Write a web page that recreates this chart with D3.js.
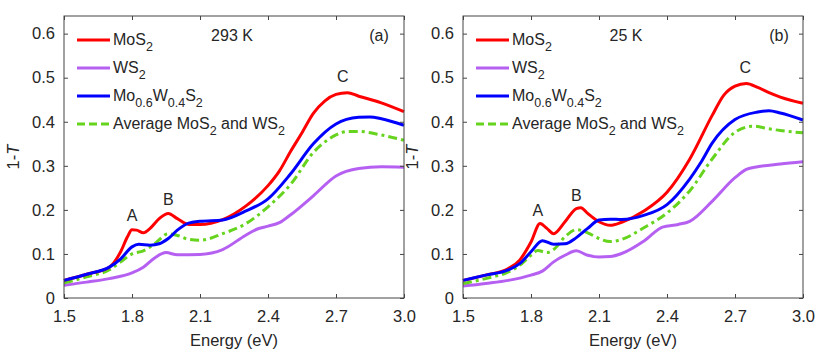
<!DOCTYPE html>
<html>
<head>
<meta charset="utf-8">
<script src="https://cdn.jsdelivr.net/npm/d3@7"></script>
<style>
  body { margin: 0; background: #fff; }
  text { font-family: "Liberation Sans", Arial, sans-serif; fill: #262626; }
</style>
</head>
<body>
<svg id="chart" width="816" height="351"></svg>
<script>
// Panel (a) 293 K
const energyA = [1.5, 1.6, 1.7, 1.75, 1.78, 1.8, 1.82, 1.85, 1.88, 1.92, 1.96, 2.0, 2.05, 2.1, 2.2, 2.3, 2.4, 2.45, 2.5, 2.55, 2.6, 2.65, 2.7, 2.75, 2.8, 2.9, 3.0];
const mos2A = [0.040, 0.054, 0.070, 0.105, 0.139, 0.155, 0.154, 0.148, 0.158, 0.180, 0.192, 0.180, 0.167, 0.167, 0.178, 0.208, 0.255, 0.288, 0.333, 0.375, 0.419, 0.447, 0.462, 0.466, 0.458, 0.443, 0.423];

const energyA2 = [1.5, 1.6, 1.7, 1.75, 1.8, 1.83, 1.88, 1.92, 1.96, 2.0, 2.05, 2.1, 2.2, 2.3, 2.4, 2.5, 2.6, 2.7, 2.8, 2.85, 2.9, 3.0];
const alloyA = [0.040, 0.054, 0.070, 0.089, 0.116, 0.122, 0.120, 0.123, 0.135, 0.154, 0.170, 0.174, 0.177, 0.197, 0.225, 0.282, 0.350, 0.395, 0.410, 0.411, 0.407, 0.392];

const energyA3 = [1.5, 1.6, 1.7, 1.75, 1.8, 1.85, 1.9, 1.96, 2.0, 2.05, 2.1, 2.2, 2.3, 2.4, 2.5, 2.6, 2.7, 2.75, 2.8, 2.9, 3.0];
const avgA = [0.034, 0.048, 0.064, 0.082, 0.100, 0.107, 0.123, 0.146, 0.142, 0.133, 0.131, 0.146, 0.168, 0.207, 0.258, 0.330, 0.370, 0.378, 0.378, 0.370, 0.358];

const energyA4 = [1.5, 1.6, 1.7, 1.8, 1.85, 1.9, 1.95, 2.0, 2.1, 2.2, 2.3, 2.35, 2.4, 2.45, 2.5, 2.6, 2.7, 2.8, 2.9, 3.0];
const ws2A = [0.029, 0.036, 0.044, 0.057, 0.070, 0.091, 0.103, 0.098, 0.099, 0.110, 0.142, 0.156, 0.163, 0.171, 0.189, 0.232, 0.277, 0.294, 0.298, 0.297];

// Panel (b) 25 K
const energyB = [1.5, 1.6, 1.7, 1.75, 1.8, 1.84, 1.87, 1.9, 1.95, 2.0, 2.02, 2.05, 2.1, 2.15, 2.2, 2.3, 2.4, 2.5, 2.6, 2.65, 2.7, 2.75, 2.8, 2.85, 2.9, 3.0];
const mos2B = [0.040, 0.052, 0.067, 0.086, 0.127, 0.169, 0.158, 0.146, 0.173, 0.203, 0.205, 0.192, 0.173, 0.165, 0.172, 0.198, 0.240, 0.315, 0.415, 0.460, 0.481, 0.487, 0.478, 0.466, 0.456, 0.442];

const energyB2 = [1.5, 1.6, 1.7, 1.75, 1.8, 1.85, 1.9, 1.95, 2.0, 2.05, 2.1, 2.15, 2.2, 2.3, 2.4, 2.5, 2.55, 2.6, 2.7, 2.8, 2.85, 2.9, 3.0];
const alloyB = [0.040, 0.052, 0.064, 0.078, 0.105, 0.130, 0.122, 0.123, 0.137, 0.158, 0.177, 0.179, 0.178, 0.188, 0.212, 0.270, 0.308, 0.352, 0.405, 0.422, 0.425, 0.420, 0.404];

const energyB3 = [1.5, 1.6, 1.7, 1.75, 1.8, 1.83, 1.87, 1.9, 1.95, 2.0, 2.05, 2.1, 2.15, 2.2, 2.3, 2.4, 2.5, 2.6, 2.7, 2.78, 2.85, 2.9, 3.0];
const avgB = [0.033, 0.044, 0.059, 0.074, 0.097, 0.108, 0.103, 0.110, 0.139, 0.155, 0.148, 0.135, 0.128, 0.133, 0.160, 0.193, 0.243, 0.316, 0.376, 0.390, 0.384, 0.380, 0.375];

const energyB4 = [1.5, 1.6, 1.7, 1.8, 1.85, 1.9, 1.95, 2.0, 2.05, 2.1, 2.15, 2.2, 2.3, 2.38, 2.45, 2.5, 2.6, 2.7, 2.75, 2.8, 2.9, 3.0];
const ws2B = [0.027, 0.033, 0.040, 0.052, 0.061, 0.082, 0.097, 0.107, 0.097, 0.093, 0.094, 0.101, 0.130, 0.161, 0.167, 0.174, 0.220, 0.273, 0.292, 0.298, 0.304, 0.309];

const xTicks = [1.5, 1.8, 2.1, 2.4, 2.7, 3.0];
const yTicks = [0, 0.1, 0.2, 0.3, 0.4, 0.5, 0.6];

// legend labels: [text, isSubscript]
const legendItems = [
  { parts: [["MoS", 0], ["2", 1]], color: "#ff0000", dash: null },
  { parts: [["WS", 0], ["2", 1]], color: "#b660f2", dash: null },
  { parts: [["Mo", 0], ["0.6", 1], ["W", 0], ["0.4", 1], ["S", 0], ["2", 1]], color: "#0000ff", dash: null },
  { parts: [["Average MoS", 0], ["2", 1], [" and WS", 0], ["2", 1]], color: "#66d41e", dash: "8,4" }
];

const panels = [
  {
    left: 64, temp: "293 K", tag: "(a)", tempX: 232, tagX: 379,
    series: [
      { e: energyA4, v: ws2A, color: "#b660f2", dash: null },
      { e: energyA3, v: avgA, color: "#66d41e", dash: "9,4,3,4" },
      { e: energyA, v: mos2A, color: "#ff0000", dash: null },
      { e: energyA2, v: alloyA, color: "#0000ff", dash: null }
    ],
    peaks: [["A", 1.8, 0.175], ["B", 1.96, 0.212], ["C", 2.73, 0.49]]
  },
  {
    left: 463, temp: "25 K", tag: "(b)", tempX: 626, tagX: 779,
    series: [
      { e: energyB4, v: ws2B, color: "#b660f2", dash: null },
      { e: energyB3, v: avgB, color: "#66d41e", dash: "9,4,3,4" },
      { e: energyB, v: mos2B, color: "#ff0000", dash: null },
      { e: energyB2, v: alloyB, color: "#0000ff", dash: null }
    ],
    peaks: [["A", 1.83, 0.185], ["B", 2.0, 0.22], ["C", 2.745, 0.51]]
  }
];

const svg = d3.select("#chart");
const plotTop = 16, plotBottom = 298, plotW = 340;

panels.forEach((p) => {
  const x = d3.scaleLinear().domain([1.5, 3.0]).range([p.left, p.left + plotW]);
  const y = d3.scaleLinear().domain([0, 0.64]).range([plotBottom, plotTop]);
  const g = svg.append("g");

  // curves
  const line = d3.line().x((d) => x(d[0])).y((d) => y(d[1])).curve(d3.curveMonotoneX);
  p.series.forEach((s) => {
    g.append("path")
      .datum(s.e.map((e, i) => [e, s.v[i]]))
      .attr("d", line)
      .attr("fill", "none")
      .attr("stroke", s.color)
      .attr("stroke-width", 3)
      .attr("stroke-dasharray", s.dash);
  });

  // axes, ticks inward on all four sides
  const tickFmt = (d) => (d === 0 ? "0" : d3.format(".1f")(d));
  g.append("g").attr("transform", `translate(0,${plotBottom})`)
    .call(d3.axisBottom(x).tickValues(xTicks).tickFormat(d3.format(".1f")).tickSizeInner(-4).tickSizeOuter(0).tickPadding(12));
  g.append("g").attr("transform", `translate(0,${plotTop})`)
    .call(d3.axisTop(x).tickValues(xTicks).tickFormat("").tickSizeInner(-4).tickSizeOuter(0));
  g.append("g").attr("transform", `translate(${p.left},0)`)
    .call(d3.axisLeft(y).tickValues(yTicks).tickFormat(tickFmt).tickSizeInner(-4).tickSizeOuter(0).tickPadding(9));
  g.append("g").attr("transform", `translate(${p.left + plotW},0)`)
    .call(d3.axisRight(y).tickValues(yTicks).tickFormat("").tickSizeInner(-4).tickSizeOuter(0));
  g.selectAll(".domain").remove();
  g.selectAll(".tick line").attr("stroke", "#444");
  g.selectAll(".tick text").attr("font-size", "16.5px").attr("fill", "#262626")
    .attr("font-family", "Liberation Sans, Arial, sans-serif");

  g.append("rect")
    .attr("x", p.left).attr("y", plotTop)
    .attr("width", plotW).attr("height", plotBottom - plotTop)
    .attr("fill", "none").attr("stroke", "#444").attr("stroke-width", 1);

  // axis labels
  g.append("text")
    .attr("x", p.left + plotW / 2).attr("y", 346)
    .attr("text-anchor", "middle").attr("font-size", "16.5px")
    .text("Energy (eV)");
  const yl = g.append("text")
    .attr("transform", `translate(${p.left - 45},157) rotate(-90)`)
    .attr("text-anchor", "middle").attr("font-size", "16.5px");
  yl.append("tspan").text("1-");
  yl.append("tspan").attr("font-style", "italic").text("T");

  // temperature and panel tag
  g.append("text").attr("x", p.tempX).attr("y", 41).attr("text-anchor", "middle")
    .attr("font-size", "16px").attr("fill", "#111").text(p.temp);
  g.append("text").attr("x", p.tagX).attr("y", 41).attr("text-anchor", "middle")
    .attr("font-size", "16px").attr("fill", "#111").text(p.tag);

  // peak labels
  p.peaks.forEach(([lab, e, v]) => {
    g.append("text").attr("x", x(e)).attr("y", y(v))
      .attr("text-anchor", "middle").attr("font-size", "16px")
      .attr("font-family", "Open Sans, sans-serif").attr("fill", "#111")
      .text(lab);
  });

  // legend
  const lx = p.left + 13;
  legendItems.forEach((it, i) => {
    const ly = 40 + i * 28;
    g.append("line")
      .attr("x1", lx).attr("x2", lx + 33).attr("y1", ly).attr("y2", ly)
      .attr("stroke", it.color).attr("stroke-width", 3)
      .attr("stroke-dasharray", it.dash);
    const t = g.append("text").attr("x", lx + 36).attr("y", ly + 5)
      .attr("font-size", "16px").attr("fill", "#111");
    let shift = 0;
    it.parts.forEach(([s, sub]) => {
      const off = sub ? 6 : 0;
      t.append("tspan")
        .attr("font-size", sub ? "12.5px" : "16px")
        .attr("dy", off - shift)
        .text(s);
      shift = off;
    });
  });
});
</script>
</body>
</html>
